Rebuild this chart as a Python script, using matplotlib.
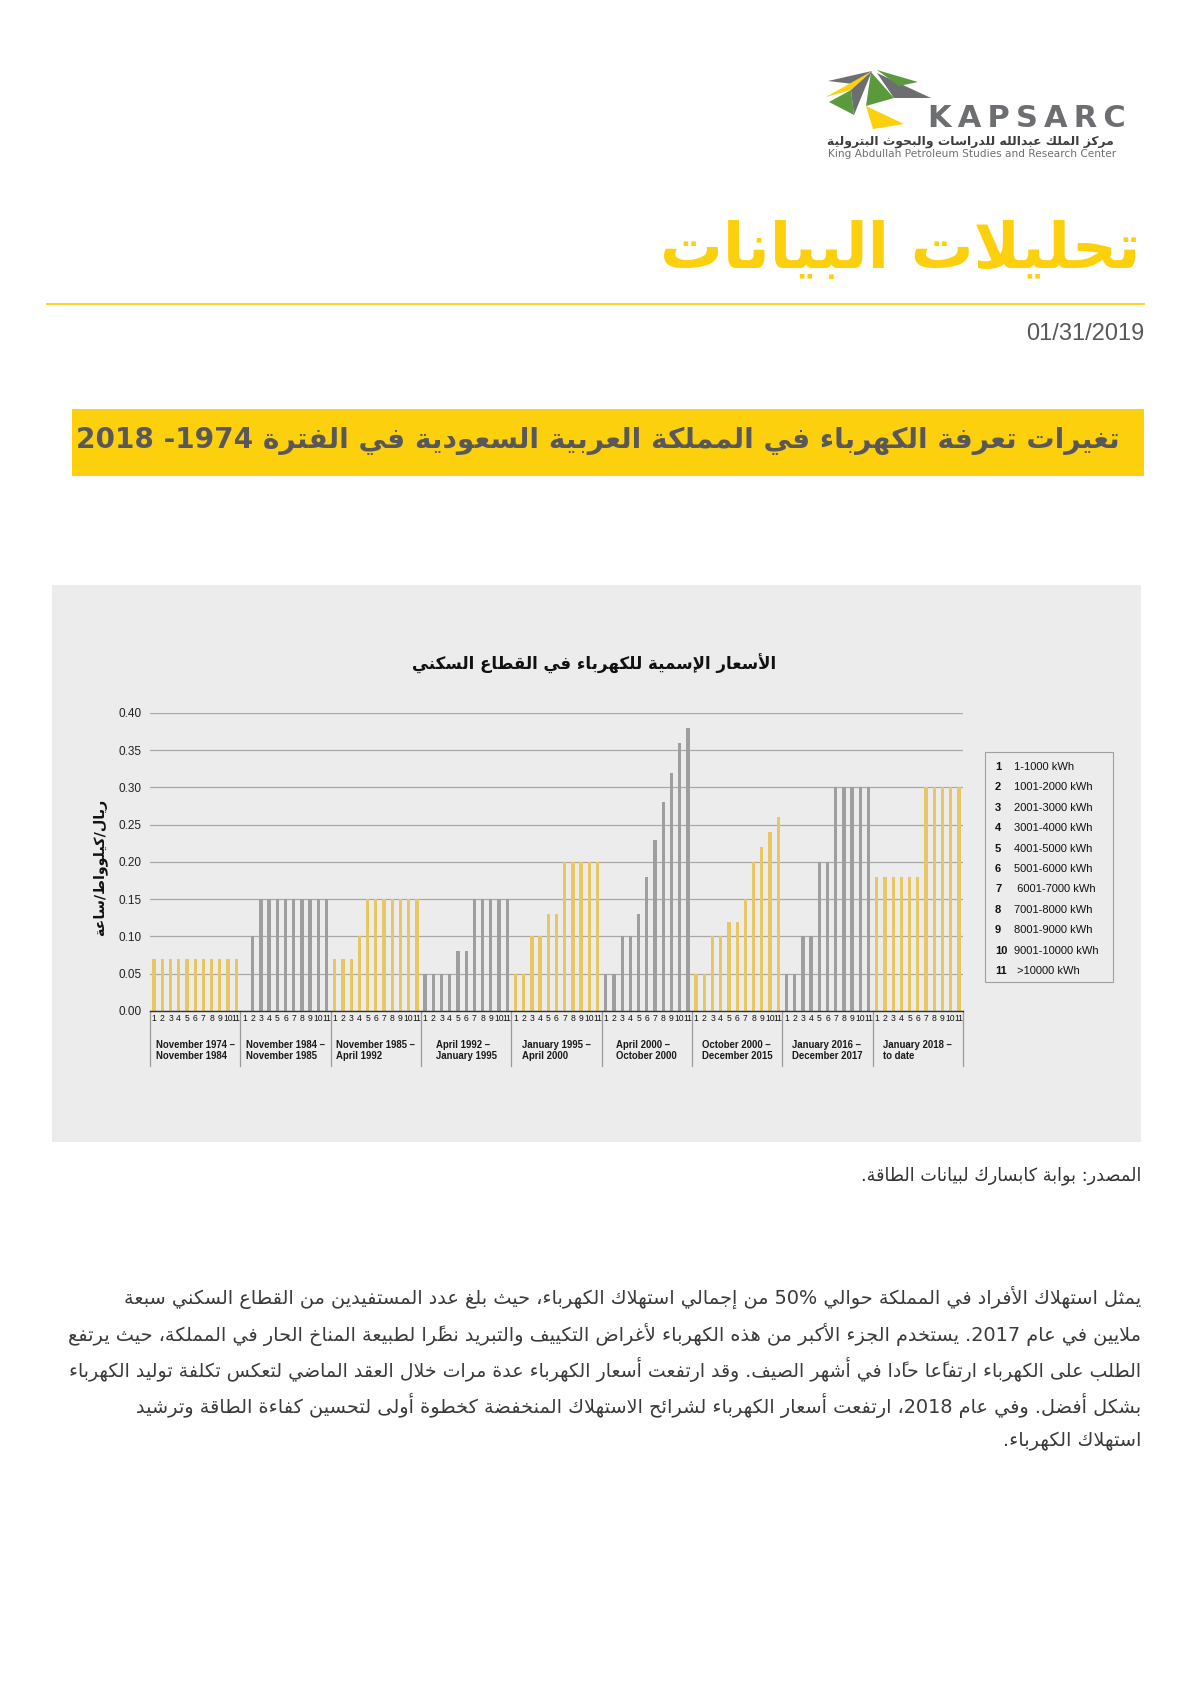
import re
import matplotlib
matplotlib.use("Agg")
import matplotlib.pyplot as plt
import matplotlib.patches as patches
import matplotlib.transforms as mtransforms

# ---- data -------------------------------------------------------------
periods = ["November 1974 –\nNovember 1984",
           "November 1984 –\nNovember 1985",
           "November 1985 –\nApril 1992",
           "April 1992 –\nJanuary 1995",
           "January 1995 –\nApril 2000",
           "April 2000 –\nOctober 2000",
           "October 2000 –\nDecember 2015",
           "January 2016 –\nDecember 2017",
           "January 2018 –\nto date"]

tier_ids = ["1", "2", "3", "4", "5", "6", "7", "8", "9", "10", "11"]
tier_names = ["1-1000 kWh", "1001-2000 kWh", "2001-3000 kWh", "3001-4000 kWh",
              "4001-5000 kWh", "5001-6000 kWh", " 6001-7000 kWh", "7001-8000 kWh",
              "8001-9000 kWh", "9001-10000 kWh", " >10000 kWh"]

# SAR per kWh, one list per period (tiers 1..11)
p_1974 = [0.07, 0.07, 0.07, 0.07, 0.07, 0.07, 0.07, 0.07, 0.07, 0.07, 0.07]
p_1984 = [0.00, 0.10, 0.15, 0.15, 0.15, 0.15, 0.15, 0.15, 0.15, 0.15, 0.15]
p_1985 = [0.07, 0.07, 0.07, 0.10, 0.15, 0.15, 0.15, 0.15, 0.15, 0.15, 0.15]
p_1992 = [0.05, 0.05, 0.05, 0.05, 0.08, 0.08, 0.15, 0.15, 0.15, 0.15, 0.15]
p_1995 = [0.05, 0.05, 0.10, 0.10, 0.13, 0.13, 0.20, 0.20, 0.20, 0.20, 0.20]
p_2000a = [0.05, 0.05, 0.10, 0.10, 0.13, 0.18, 0.23, 0.28, 0.32, 0.36, 0.38]
p_2000b = [0.05, 0.05, 0.10, 0.10, 0.12, 0.12, 0.15, 0.20, 0.22, 0.24, 0.26]
p_2016 = [0.05, 0.05, 0.10, 0.10, 0.20, 0.20, 0.30, 0.30, 0.30, 0.30, 0.30]
p_2018 = [0.18, 0.18, 0.18, 0.18, 0.18, 0.18, 0.30, 0.30, 0.30, 0.30, 0.30]
prices = [p_1974, p_1984, p_1985, p_1992, p_1995, p_2000a, p_2000b, p_2016, p_2018]

yticks = [0.00, 0.05, 0.10, 0.15, 0.20, 0.25, 0.30, 0.35, 0.40]

header = "تحليلات البيانات"
banner = "تغيرات تعرفة الكهرباء في المملكة العربية السعودية في الفترة 1974- 2018"
chart_title = "الأسعار الإسمية للكهرباء في القطاع السكني"
y_label = "ريال/كيلوواط/ساعة"
source = "المصدر: بوابة كابسارك لبيانات الطاقة."
logo_ar = "مركز الملك عبدالله للدراسات والبحوث البترولية"
logo_en = "King Abdullah Petroleum Studies and Research Center"
date = "01/31/2019"
body = ["يمثل استهلاك الأفراد في المملكة حوالي 50% من إجمالي استهلاك الكهرباء، حيث بلغ عدد المستفيدين من القطاع السكني سبعة",
        "ملايين في عام 2017. يستخدم الجزء الأكبر من هذه الكهرباء لأغراض التكييف والتبريد نظرًا لطبيعة المناخ الحار في المملكة، حيث يرتفع",
        "الطلب على الكهرباء ارتفاعًا حادًا في أشهر الصيف. وقد ارتفعت أسعار الكهرباء عدة مرات خلال العقد الماضي لتعكس تكلفة توليد الكهرباء",
        "بشكل أفضل. وفي عام 2018، ارتفعت أسعار الكهرباء لشرائح الاستهلاك المنخفضة كخطوة أولى لتحسين كفاءة الطاقة وترشيد",
        "استهلاك الكهرباء."]
body_sizes = [13.9, 13.9, 13.6, 13.9, 13.9]

# ---- minimal arabic shaping + rtl ordering (matplotlib does neither) ----
AR_FORMS = {0x0621: (0xFE80, 1), 0x0622: (0xFE81, 2), 0x0623: (0xFE83, 2), 0x0624: (0xFE85, 2),
            0x0625: (0xFE87, 2), 0x0626: (0xFE89, 4), 0x0627: (0xFE8D, 2), 0x0628: (0xFE8F, 4),
            0x0629: (0xFE93, 2), 0x062A: (0xFE95, 4), 0x062B: (0xFE99, 4), 0x062C: (0xFE9D, 4),
            0x062D: (0xFEA1, 4), 0x062E: (0xFEA5, 4), 0x062F: (0xFEA9, 2), 0x0630: (0xFEAB, 2),
            0x0631: (0xFEAD, 2), 0x0632: (0xFEAF, 2), 0x0633: (0xFEB1, 4), 0x0634: (0xFEB5, 4),
            0x0635: (0xFEB9, 4), 0x0636: (0xFEBD, 4), 0x0637: (0xFEC1, 4), 0x0638: (0xFEC5, 4),
            0x0639: (0xFEC9, 4), 0x063A: (0xFECD, 4), 0x0641: (0xFED1, 4), 0x0642: (0xFED5, 4),
            0x0643: (0xFED9, 4), 0x0644: (0xFEDD, 4), 0x0645: (0xFEE1, 4), 0x0646: (0xFEE5, 4),
            0x0647: (0xFEE9, 4), 0x0648: (0xFEED, 2), 0x0649: (0xFEEF, 2), 0x064A: (0xFEF1, 4)}
LAM_ALEF = {"\u0622": 0xFEF5, "\u0623": 0xFEF7, "\u0625": 0xFEF9, "\u0627": 0xFEFB}
LTR_RUN = re.compile(r"[0-9A-Za-z]+(?:[./:,][0-9A-Za-z]+)*%?")


def is_mark(c):
    return 0x064B <= ord(c) <= 0x0652


def shape(s):
    units = []
    i = 0
    while i < len(s):
        c = s[i]
        if c == "\u0644" and i + 1 < len(s) and s[i + 1] in LAM_ALEF:
            b = LAM_ALEF[s[i + 1]]
            units.append(("R", [chr(b), chr(b + 1)]))
            i += 2
            continue
        cp = ord(c)
        if cp in AR_FORMS:
            b, n = AR_FORMS[cp]
            units.append(({1: "U", 2: "R", 4: "D"}[n], [chr(b + k) for k in range(n)]))
        elif is_mark(c):
            units.append(("T", [c]))
        else:
            units.append(("U", [c]))
        i += 1
    out = []
    for j, (t, forms) in enumerate(units):
        if t in "TU":
            out.append(forms[0])
            continue
        p = j - 1
        while p >= 0 and units[p][0] == "T":
            p -= 1
        q = j + 1
        while q < len(units) and units[q][0] == "T":
            q += 1
        prev = p >= 0 and units[p][0] == "D"
        nxt = t == "D" and q < len(units) and units[q][0] in "DR"
        k = 3 if (prev and nxt) else 1 if prev else 2 if nxt else 0
        out.append(forms[k])
    return "".join(out)


def rtl_reverse(s):
    clusters = []
    for c in s:
        if clusters and is_mark(c):
            clusters[-1] += c
        else:
            clusters.append(c)
    return "".join(reversed(clusters))


def ar(s):
    s = shape(s)
    runs, pos = [], 0
    for m in LTR_RUN.finditer(s):
        if m.start() > pos:
            runs.append(rtl_reverse(s[pos:m.start()]))
        runs.append(m.group())
        pos = m.end()
    if pos < len(s):
        runs.append(rtl_reverse(s[pos:]))
    return "".join(reversed(runs))


# ---- page ---------------------------------------------------------------
W, H = 1191, 1684
YELLOW = "#fdd00e"
GREY_TXT = "#6d6e71"
AR_FONT = ["DejaVu Sans"]

fig = plt.figure(figsize=(W / 100, H / 100), dpi=100)
fig.patch.set_facecolor("white")
bg = fig.add_axes([0, 0, 1, 1])
bg.set_xlim(0, W)
bg.set_ylim(H, 0)
bg.axis("off")

# logo
logo = [("#6d6e71", [(872, 71), (828, 81), (853, 84)]),
        (YELLOW, [(872, 71), (826, 97), (851, 90)]),
        ("#5b9a3c", [(851, 90), (829, 102), (854, 115)]),
        ("#6d6e71", [(872, 71), (851, 90), (854, 115)]),
        ("#5b9a3c", [(871, 72), (866, 106), (894, 98)]),
        (YELLOW, [(866, 106), (873, 129), (904, 124)]),
        ("#6d6e71", [(877, 73), (931, 98), (894, 98)]),
        ("#5b9a3c", [(877, 70), (918, 82), (899, 86)])]
for col, pts in logo:
    bg.add_patch(patches.Polygon(pts, closed=True, facecolor=col, edgecolor="none"))
bg.text(928, 127, "K\u2009A\u2009P\u2009S\u2009A\u2009R\u2009C", fontsize=22, fontweight="bold",
        color=GREY_TXT, family="DejaVu Sans", ha="left", va="baseline")
bg.text(1114, 141, ar(logo_ar), fontsize=8.9, fontweight="bold", color="#3d3d3f",
        family=AR_FONT, ha="right", va="center")
bg.text(828, 154, logo_en, fontsize=7.6, color=GREY_TXT, family="DejaVu Sans",
        ha="left", va="center")

# header
bg.text(1141, 268, ar(header), fontsize=45, fontweight="bold", color=YELLOW,
        family=AR_FONT, ha="right", va="baseline")
bg.plot([47, 1144], [304, 304], color=YELLOW, lw=1.3)
bg.text(1144, 334, date, fontsize=17, color="#58595b", family="Liberation Sans",
        ha="right", va="center")

# banner
bg.add_patch(patches.Rectangle((72, 409), 1072, 67, facecolor=YELLOW, edgecolor="none"))
bg.text(1120, 441, ar(banner), fontsize=20.2, fontweight="bold", color="#58585a",
        family=AR_FONT, ha="right", va="center")

# chart panel
bg.add_patch(patches.Rectangle((52, 585), 1089, 557, facecolor="#ececec", edgecolor="none"))
bg.text(594, 664, ar(chart_title), fontsize=12, fontweight="bold", color="#111111",
        family=AR_FONT, ha="center", va="center")
bg.text(100, 867, ar(y_label), fontsize=10.3, fontweight="bold", color="#111111",
        family=AR_FONT, ha="center", va="center", rotation=90)

# legend box
bg.add_patch(patches.Rectangle((985, 752), 128, 230, facecolor="none",
                               edgecolor="#a0a0a0", lw=0.8))
for i, (tid, name) in enumerate(zip(tier_ids, tier_names)):
    y = 767 + i * 20.4
    bg.text(995, y, tid, fontsize=8, fontweight="bold", color="#111111",
            family="Liberation Sans", ha="left", va="center")
    bg.text(1014, y, name, fontsize=8, color="#111111",
            family="Liberation Sans", ha="left", va="center")

# source + body
bg.text(1141, 1176, ar(source), fontsize=12.7, color="#333333", family=AR_FONT,
        ha="right", va="center")
for line, y, fs in zip(body, [1297, 1334, 1369, 1406, 1441], body_sizes):
    bg.text(1141, y, ar(line), fontsize=fs, color="#3a3a3a", family=AR_FONT,
            ha="right", va="center")

# ---- bar chart ----------------------------------------------------------
ax = fig.add_axes([150 / W, 1 - 1011 / H, 813 / W, 298 / H])
ax.set_facecolor("none")
n = len(tier_ids)
bar_cols = ["#e8c664", "#9e9e9e"]
xs, labels = [], []
for g, vals in enumerate(prices):
    x = [g * n + k for k in range(n)]
    ax.bar(x, vals, width=0.4, color=bar_cols[g % 2], zorder=3, linewidth=0)
    xs += x
    labels += tier_ids

ax.set_xlim(-0.5, len(prices) * n - 0.5)
ax.set_ylim(0, 0.40)
ax.set_yticks(yticks)
ax.set_yticklabels([f"{v:.2f}" for v in yticks], fontsize=8.5, family="Liberation Sans",
                   color="#222222")
ax.yaxis.grid(True, color="#a8a8a8", lw=0.9, zorder=0)
ax.tick_params(axis="y", length=0, pad=6)
ax.set_xticks(xs)
ax.set_xticklabels(labels, fontsize=6.2, family="Liberation Sans", color="#111111")
ax.tick_params(axis="x", length=0, pad=2)
for s in ["top", "right", "left"]:
    ax.spines[s].set_visible(False)
ax.spines["bottom"].set_color("#333333")
ax.spines["bottom"].set_linewidth(1.0)
ax.spines["bottom"].set_zorder(4)

trans = mtransforms.blended_transform_factory(ax.transData, ax.transAxes)
for g in range(len(prices) + 1):
    ax.plot([g * n - 0.5, g * n - 0.5], [0, -0.185], transform=trans, color="#9a9a9a",
            lw=0.9, clip_on=False)
for g, lab in enumerate(periods):
    ax.text(g * n + 5, -0.097, lab, transform=trans, ha="center", va="top",
            multialignment="left", fontsize=6.9, fontweight="bold", color="#1a1a1a",
            family="Liberation Sans", linespacing=1.15)

fig.savefig("out.png", dpi=100)
